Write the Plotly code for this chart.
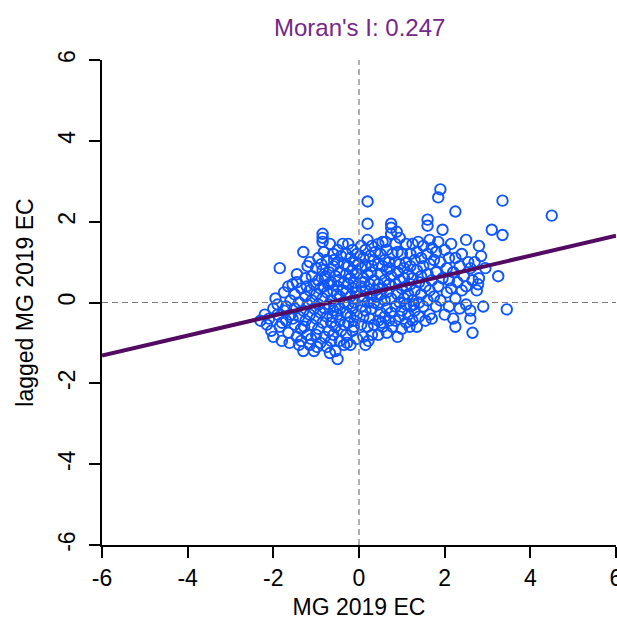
import plotly.graph_objects as go

# ---- data ----
x_vals = [
    -2.3, -2.2, -2.15, -2.05, -2.0, -2.1, -1.95, -2.0,
    -1.85, -1.9, -1.85, -1.8, -1.75, -1.7, -1.7, -1.65, -1.6, -1.6, -1.9, -1.75, -1.65, -1.8, -1.62,
    -1.55, -1.5, -1.5, -1.5, -1.45, -1.45, -1.4, -1.4, -1.4, -1.35, -1.35, -1.3, -1.3, -1.3, -1.25, -1.25, -1.25, -1.2, -1.2, -1.2, -1.55, -1.45, -1.35, -1.22, -1.28,
    -1.15, -1.15, -1.15, -1.15, -1.1, -1.1, -1.1, -1.05, -1.05, -1.05, -1.0, -1.0, -1.0, -1.0, -0.95, -0.95, -0.95, -0.95, -0.9, -0.9, -0.9, -0.85, -0.85, -0.85, -0.85, -0.85, -0.85, -0.82, -0.8, -0.8, -0.8, -0.88, -1.12, -0.98, -0.82,
    -0.75, -0.75, -0.75, -0.75, -0.7, -0.7, -0.7, -0.68, -0.65, -0.65, -0.65, -0.65, -0.6, -0.6, -0.6, -0.6, -0.6, -0.55, -0.55, -0.55, -0.55, -0.5, -0.5, -0.5, -0.5, -0.5, -0.45, -0.45, -0.45, -0.45, -0.42, -0.42, -0.72, -0.62, -0.48, -0.58, -0.68, -0.44, -0.52, -0.78,
    -0.38, -0.35, -0.35, -0.35, -0.35, -0.35, -0.3, -0.3, -0.3, -0.3, -0.3, -0.25, -0.25, -0.25, -0.25, -0.25, -0.2, -0.2, -0.2, -0.2, -0.2, -0.15, -0.15, -0.15, -0.15, -0.15, -0.1, -0.1, -0.1, -0.1, -0.05, -0.05, -0.05, -0.05, -0.05, -0.02, -0.38, -0.28, -0.12, -0.08,
    0.2, 0.2, 0.05, 0.05, 0.05, 0.05, 0.05, 0.1, 0.1, 0.1, 0.1, 0.1, 0.15, 0.15, 0.15, 0.15, 0.15, 0.2, 0.2, 0.2, 0.2, 0.25, 0.25, 0.25, 0.3, 0.3, 0.3, 0.3, 0.3, 0.35, 0.35, 0.35, 0.35, 0.38, 0.38, 0.02, 0.22, 0.08, 0.28, 0.12,
    0.45, 0.45, 0.45, 0.45, 0.45, 0.45, 0.5, 0.5, 0.5, 0.5, 0.55, 0.55, 0.55, 0.55, 0.6, 0.6, 0.6, 0.6, 0.65, 0.65, 0.65, 0.65, 0.65, 0.7, 0.7, 0.7, 0.75, 0.75, 0.75, 0.75, 0.75, 0.75, 0.78, 0.78, 0.42, 0.52, 0.62, 0.72,
    0.85, 0.85, 0.85, 0.85, 0.85, 0.9, 0.9, 0.9, 0.9, 0.95, 0.95, 0.95, 0.95, 0.95, 1.0, 1.0, 1.0, 1.0, 1.05, 1.05, 1.05, 1.1, 1.1, 1.1, 1.1, 1.1, 1.15, 1.15, 1.15, 1.2, 1.2, 1.2, 1.2, 0.88, 1.18,
    1.25, 1.25, 1.25, 1.25, 1.3, 1.3, 1.3, 1.35, 1.35, 1.35, 1.4, 1.4, 1.4, 1.45, 1.45, 1.45, 1.5, 1.5, 1.5, 1.55, 1.55, 1.6, 1.6, 1.6, 1.6, 1.6, 1.38, 1.28,
    1.65, 1.65, 1.65, 1.65, 1.7, 1.7, 1.7, 1.75, 1.75, 1.8, 1.8, 1.8, 1.85, 1.85, 1.85, 1.9, 1.9, 1.9, 1.95, 1.95, 2.0, 2.0,
    2.05, 2.05, 2.1, 2.1, 2.1, 2.15, 2.15, 2.2, 2.2, 2.25, 2.25, 2.25, 2.25, 2.3, 2.35, 2.35, 2.4, 2.4,
    2.45, 2.5, 2.5, 2.5, 2.55, 2.6, 2.6, 2.6, 2.65, 2.65, 2.7, 2.75, 2.8, 2.8, 2.85, 2.9, 2.95, 2.78,
    3.1, 3.25, 3.35, 3.35, 3.45, 4.5,
]
y_vals = [
    -0.45, -0.3, -0.55, -0.7, -0.15, -0.4, 0.1, -0.85,
    0.85, -0.3, -0.6, -0.95, 0.25, -0.1, -0.45, -0.75, 0.05, -0.3, -0.05, -0.2, 0.4, -0.5, -1.0,
    0.45, 0.2, -0.15, -0.55, -0.85, 0.7, 0.0, -0.35, -1.05, 0.35, -0.65, 1.25, -0.2, -1.2, 0.6, 0.15, -0.45, -0.8, 0.9, -0.05, -0.4, 0.5, -0.95, 0.4, -0.6,
    1.0, 0.3, -0.3, -1.05, 0.65, 0.05, -0.55, -1.2, 0.45, -0.15, 0.85, 0.2, -0.4, -0.8, 1.1, 0.55, -0.05, -0.65, 0.35, -0.25, -1.0, 1.7, 1.6, 1.5, 0.8, 0.1, -0.5, 1.25, -0.85, 0.6, -0.15, 0.95, -0.9, -1.1, 0.4,
    1.05, 0.25, -0.35, -1.1, 0.75, -0.05, -0.7, 1.45, 0.5, 0.05, -0.5, -0.95, 1.2, 0.9, 0.3, -0.2, -0.8, 0.65, -0.1, -0.6, -1.2, 1.3, 1.0, 0.4, -0.3, -1.4, 0.75, 0.15, -0.45, -0.95, 1.15, -0.7, 0.45, -0.35, 0.55, 1.05, -1.25, -0.15, 0.2, 0.65,
    1.45, 0.95, 0.5, 0.0, -0.55, -1.05, 1.2, 0.7, 0.25, -0.25, -0.8, 1.45, 0.9, 0.45, -0.05, -0.5, 1.1, 0.6, 0.15, -0.35, -1.05, 1.3, 0.8, 0.35, -0.15, -0.7, 1.0, 0.5, 0.0, -0.45, 1.2, 0.7, 0.25, -0.3, -0.9, 0.95, 0.3, -1.0, -0.6, 0.4,
    2.5, 1.95, 1.4, 0.85, 0.4, -0.1, -0.55, 1.1, 0.6, 0.15, -0.35, -0.85, 1.3, 0.9, 0.3, -0.2, -1.05, 1.55, 0.7, 0.0, -0.6, 1.15, 0.45, -0.4, 1.4, 0.9, 0.2, -0.15, -0.8, 1.05, 0.55, 0.0, -0.55, 1.25, 0.3, 1.15, -0.95, 0.05, 0.75, 0.5,
    1.45, 0.95, 0.45, -0.05, -0.45, -0.8, 1.2, 0.7, 0.2, -0.25, 1.5, 0.9, 0.35, -0.6, 1.05, 0.55, 0.05, -0.35, 1.3, 0.8, 0.25, -0.15, -0.75, 1.0, 0.45, -0.45, 1.95, 1.85, 1.7, 0.65, 0.1, -0.25, 1.2, -0.6, 0.15, -0.5, 1.5, 0.85,
    1.45, 1.0, 0.45, -0.1, -0.45, 1.25, 0.75, 0.2, -0.85, 1.6, 0.95, 0.55, 0.0, -0.35, 1.2, 0.35, -0.2, -0.65, 0.85, 0.6, 0.1, 1.45, 1.0, 0.4, -0.05, -0.5, 0.7, 0.2, -0.3, 1.2, 0.9, 0.45, -0.1, 1.75, -0.6,
    1.45, 0.6, 0.05, -0.45, 1.05, 0.3, -0.2, 1.25, 0.8, -0.6, 0.5, 0.0, -0.35, 1.1, 0.65, 0.2, 1.4, 0.9, -0.1, 0.4, -0.45, 2.05, 1.9, 1.2, 0.7, 0.05, 1.5, -0.05,
    1.55, 0.95, 0.3, -0.3, 1.35, 0.55, -0.4, 1.05, 0.15, 1.25, 0.75, -0.1, 2.6, 1.5, 0.4, 2.8, 1.0, 0.05, 1.8, 0.6, 1.3, -0.3,
    0.85, 0.25, 1.1, -0.1, 0.55, 1.45, 0.35, 0.75, -0.4, 2.25, 1.1, 0.1, -0.6, 0.5, 0.9, -0.15, 0.3, 1.2,
    0.65, 1.55, 0.4, -0.05, 1.0, -0.2, -0.4, 0.85, -0.75, 0.55, 1.0, 0.3, 1.4, 0.6, 1.15, -0.1, 0.85, 0.45,
    1.8, 0.65, 2.52, 1.67, -0.17, 2.15,
]
moran_i = 0.247
intercept = 0.17
axis_range = [-6, 6]
tick_vals = [-6, -4, -2, 0, 2, 4, 6]
tick_text = ["-6", "-4", "-2", "0", "2", "4", "6"]

line_x = [axis_range[0], axis_range[1]]
line_y = [intercept + moran_i * v for v in line_x]

FONT = "Liberation Sans, Arial, sans-serif"
FS = 23

fig = go.Figure()
fig.add_trace(go.Scatter(
    x=x_vals, y=y_vals, mode="markers",
    marker=dict(symbol="circle-open", size=10.5, color="#0f55ff",
                line=dict(width=1.9, color="#0f55ff")),
    hoverinfo="skip", showlegend=False, cliponaxis=False,
))
fig.add_trace(go.Scatter(
    x=line_x, y=line_y, mode="lines",
    line=dict(color="#520a62", width=4),
    hoverinfo="skip", showlegend=False,
))

# dashed reference lines
fig.add_shape(type="line", x0=0, x1=0, y0=axis_range[0], y1=axis_range[1],
              xref="x", yref="y", line=dict(color="#7a7a7a", width=1.2, dash="6px,4px"), layer="above")
fig.add_shape(type="line", x0=axis_range[0], x1=axis_range[1], y0=0, y1=0,
              xref="x", yref="y", line=dict(color="#7a7a7a", width=1.2, dash="6px,4px"), layer="above")

fig.add_annotation(text="Moran's I: 0.247", xref="x", yref="paper", x=0, y=1,
                   yshift=33, yanchor="middle", showarrow=False,
                   font=dict(family=FONT, size=24, color="#74288a"))

fig.update_layout(
    width=617, height=623,
    margin=dict(l=102, r=1, t=60, b=78),
    plot_bgcolor="white", paper_bgcolor="white",
    font=dict(family=FONT, size=FS, color="black"),
    xaxis=dict(range=axis_range, tickvals=tick_vals, ticktext=tick_text, automargin=False,
               showgrid=False, zeroline=False, showline=True, linecolor="black", linewidth=1.6,
               ticks="outside", ticklen=11, tickwidth=1.6, tickcolor="black", ticklabelstandoff=1,
               ticklabeloverflow="allow",
               tickfont=dict(size=FS), title=dict(text="MG 2019 EC", font=dict(size=FS), standoff=8)),
    yaxis=dict(range=axis_range, tickvals=tick_vals, ticktext=tick_text, tickangle=-90, automargin=False,
               showgrid=False, zeroline=False, showline=True, linecolor="black", linewidth=1.6,
               ticks="outside", ticklen=11, tickwidth=1.6, tickcolor="black", ticklabelstandoff=5,
               ticklabeloverflow="allow",
               tickfont=dict(size=FS), title=dict(text="lagged MG 2019 EC", font=dict(size=FS), standoff=14)),
)

# remove the default page margin so the figure sits at the window's top-left corner
fig.write_html("out.html", config={"displayModeBar": False},
               post_script="document.body.style.margin='0';document.body.style.overflow='hidden';")
